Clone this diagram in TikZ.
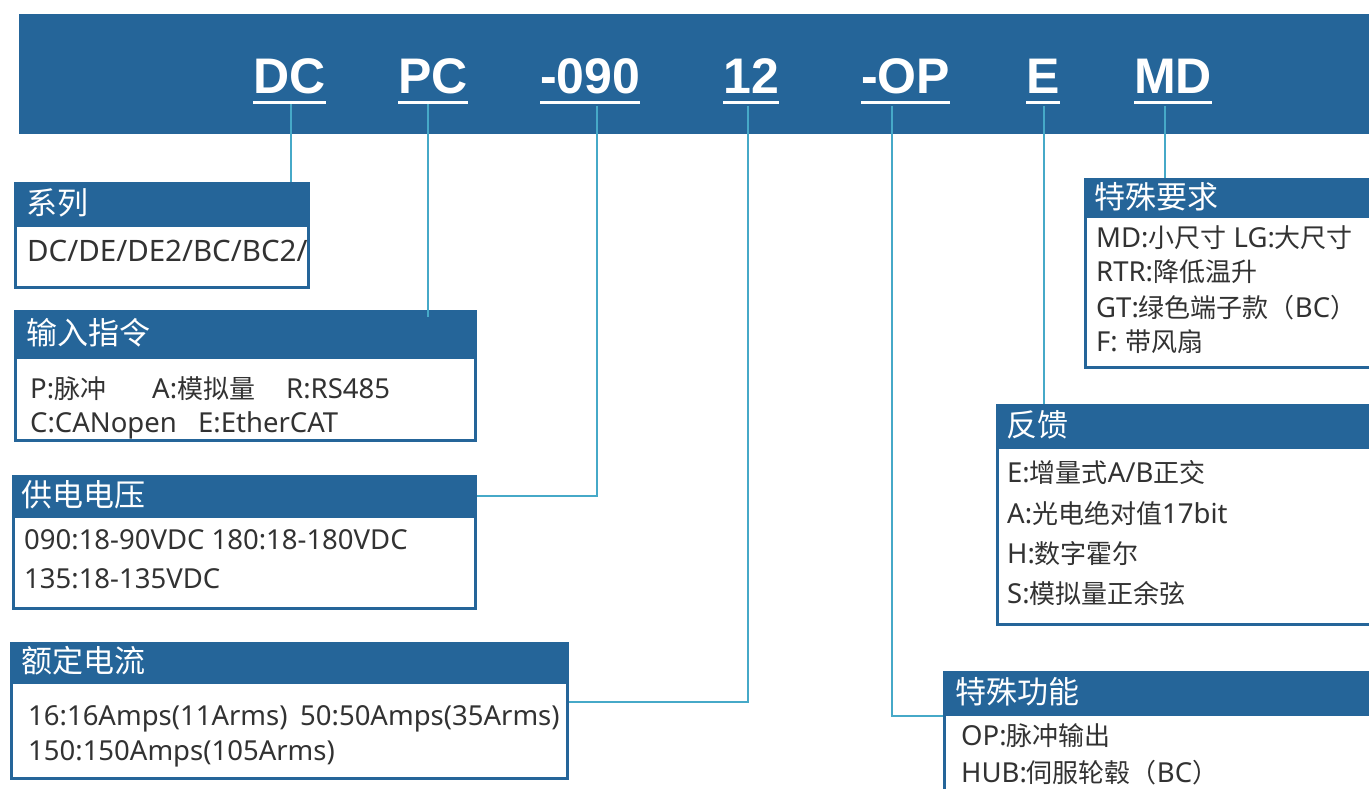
\documentclass[tikz,border=0pt]{standalone}
\usepackage{fontspec}
\setmainfont{Noto Sans}
\newfontfamily\cjkfont{Noto Sans CJK SC}
\newfontfamily\titlefont{Liberation Sans}
\newcommand\zh[1]{{\cjkfont\fontsize{26}{30}\selectfont #1}}
\definecolor{barblue}{RGB}{37,101,153}
\definecolor{connblue}{RGB}{70,169,200}
\definecolor{txtgray}{RGB}{50,50,50}
\tikzset{
 titletext/.style={anchor=base west, inner sep=0pt, text=white, font=\fontsize{50}{56}\selectfont\titlefont\bfseries},
 uline/.style={draw=white, line width=3pt},
 conn/.style={draw=connblue, line width=2pt},
 boxbody/.style={draw=barblue, fill=white, line width=2.5pt, anchor=north west, inner sep=0pt},
 boxhead/.style={fill=barblue, draw=barblue, line width=2.5pt, anchor=north west, inner sep=0pt},
 headtext/.style={anchor=west, inner sep=0pt, text=white, font=\fontsize{31}{34}\selectfont\cjkfont},
 bodytext/.style={anchor=base west, inner sep=0pt, text=txtgray, font=\fontsize{27.5}{30}\selectfont},
}
\begin{document}
\begin{tikzpicture}[x=1pt,y=-1pt]
\useasboundingbox (0,0) rectangle (1369,788);
\clip (0,0) rectangle (1369,788);
% top bar
\node[fill=barblue, inner sep=0pt, anchor=north west, minimum width=1360pt, minimum height=120pt] (bar) at (19,14) {};
% titles
\node[titletext] (tDC) at (253,93) {DC};
\node[titletext] (tPC) at (398,93) {PC};
\node[titletext] (tV) at (540,93) {-090};
\node[titletext] (tI) at (723,93) {12};
\node[titletext] (tOP) at (861,93) {-OP};
\node[titletext] (tE) at (1026,93) {E};
\node[titletext] (tMD) at (1134,93) {MD};
\foreach \t in {tDC,tPC,tV,tI,tOP,tE,tMD}{
  \draw[uline] ([yshift=-9pt]\t.base west) -- ([yshift=-9pt]\t.base east);
}
% connector start points
\coordinate (sDC) at (291,104);
\coordinate (sPC) at (428,104);
\coordinate (sV) at (597,106);
\coordinate (sI) at (748,106);
\coordinate (sOP) at (892,106);
\coordinate (sE) at (1044,106);
\coordinate (sMD) at (1165,106);
% boxes (bodies)
\node[boxbody, minimum width=293pt, minimum height=104pt] (b1) at (14,182) {};
\node[boxbody, minimum width=460pt, minimum height=129pt] (b2) at (14,310) {};
\node[boxbody, minimum width=462pt, minimum height=132pt] (b3) at (12,475) {};
\node[boxbody, minimum width=556pt, minimum height=135pt] (b4) at (10,642) {};
\node[boxbody, minimum width=306pt, minimum height=188pt] (b5) at (1084,178) {};
\node[boxbody, minimum width=394pt, minimum height=219pt] (b6) at (996,404) {};
\node[boxbody, minimum width=447pt, minimum height=130pt] (b7) at (943,671) {};
% headers
\node[boxhead, minimum width=293pt, minimum height=42pt] (h1) at (14,182) {};
\node[boxhead, minimum width=460pt, minimum height=46pt] (h2) at (14,310) {};
\node[boxhead, minimum width=462pt, minimum height=40pt] (h3) at (12,475) {};
\node[boxhead, minimum width=556pt, minimum height=39pt] (h4) at (10,642) {};
\node[boxhead, minimum width=306pt, minimum height=37pt] (h5) at (1084,178) {};
\node[boxhead, minimum width=394pt, minimum height=42pt] (h6) at (996,404) {};
\node[boxhead, minimum width=447pt, minimum height=42pt] (h7) at (943,671) {};
% connectors
\coordinate (c4) at ([yshift=-60pt]b4.north east);
\draw[conn] (sDC) -- (sDC |- b1.north);
\draw[conn] (sPC) -- ([yshift=-7pt]sPC |- h2.north);
\draw[conn] (sV) |- (h3.east);
\draw[conn] (sI) |- (c4);
\draw[conn] (sOP) |- (h7.south west);
\draw[conn] (sE) -- (sE |- b6.north);
\draw[conn] (sMD) -- (sMD |- b5.north);
% header texts
\node[headtext] (ht1) at (26,203) {系列};
\node[headtext] (ht2) at (26,333) {输入指令};
\node[headtext] (ht3) at (21,495) {供电电压};
\node[headtext] (ht4) at (21,661) {额定电流};
\node[headtext] (ht5) at (1094,197) {特殊要求};
\node[headtext] (ht6) at (1006,425) {反馈};
\node[headtext] (ht7) at (955,692) {特殊功能};
% body texts
\node[bodytext, font=\fontsize{29.5}{32}\selectfont] (l1a) at (27,261) {DC/DE/DE2/BC/BC2/};
\node[bodytext] (l2a) at (30,398) {P:\zh{脉冲}};
\node[bodytext] (l2b) at (152,398) {A:\zh{模拟量}};
\node[bodytext] (l2c) at (286,398) {R:RS485};
\node[bodytext] (l2d) at (30,432) {C:CANopen};
\node[bodytext] (l2e) at (198,432) {E:EtherCAT};
\node[bodytext] (l3a) at (24,549) {090:18-90VDC 180:18-180VDC};
\node[bodytext] (l3b) at (24,588) {135:18-135VDC};
\node[bodytext] (l4a) at (28,725) {16:16Amps(11Arms)};
\node[bodytext] (l4b) at (300,725) {50:50Amps(35Arms)};
\node[bodytext] (l4c) at (28,760) {150:150Amps(105Arms)};
\node[bodytext] (l5a) at (1096,247) {MD:\zh{小尺寸} LG:\zh{大尺寸}};
\node[bodytext] (l5b) at (1096,281) {RTR:\zh{降低温升}};
\node[bodytext] (l5c) at (1096,317) {GT:\zh{绿色端子款（}BC\zh{）}};
\node[bodytext] (l5d) at (1096,351) {F: \zh{带风扇}};
\node[bodytext] (l6a) at (1007,482) {E:\zh{增量式}A/B\zh{正交}};
\node[bodytext] (l6b) at (1007,523) {A:\zh{光电绝对值}17bit};
\node[bodytext] (l6c) at (1007,563) {H:\zh{数字霍尔}};
\node[bodytext] (l6d) at (1007,603) {S:\zh{模拟量正余弦}};
\node[bodytext] (l7a) at (961,745) {OP:\zh{脉冲输出}};
\node[bodytext] (l7b) at (961,782) {HUB:\zh{伺服轮毂（}BC\zh{）}};
\end{tikzpicture}
\end{document}
